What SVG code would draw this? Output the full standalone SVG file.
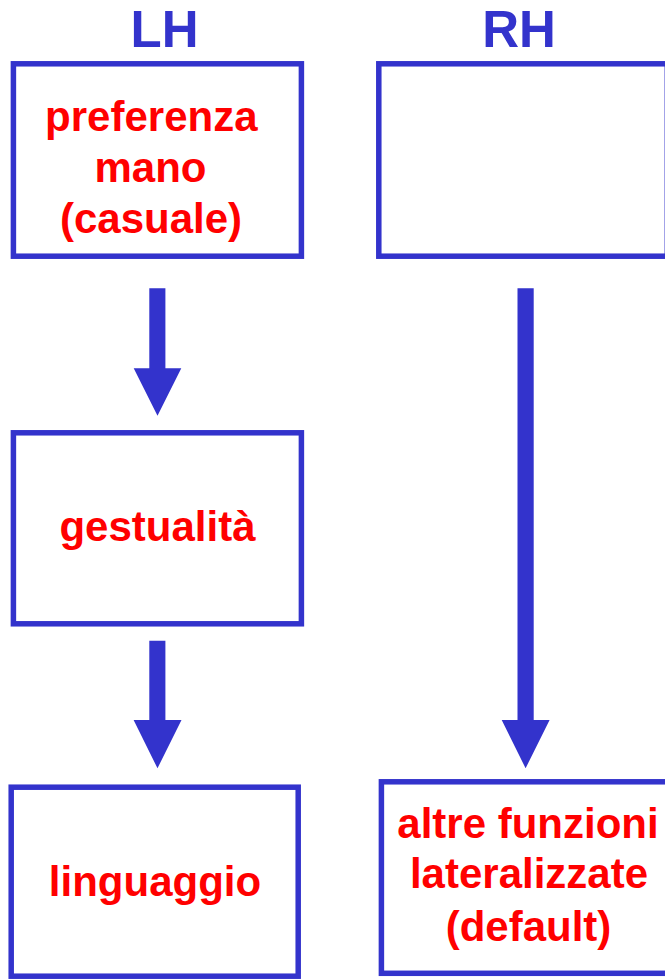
<svg xmlns="http://www.w3.org/2000/svg" width="665" height="979" viewBox="0 0 665 979">
<style>
.box{fill:#FFFFFF;stroke:#3333CC;stroke-width:5.5}
.hdr{font-family:"Liberation Sans",Arial,sans-serif;font-weight:bold;font-size:51px;fill:#3333CC;text-anchor:middle}
.lbl{font-family:"Liberation Sans",Arial,sans-serif;font-weight:bold;font-size:42px;fill:#FF0000;text-anchor:middle}
.arrow{fill:#3333CC}
</style>
<rect width="665" height="979" fill="#FFFFFF"/>
<g id="hdr-lh"><text class="hdr" x="164.5" y="46.5">LH</text></g>
<g id="hdr-rh"><text class="hdr" x="519" y="46.5">RH</text></g>
<g id="connectors">
<polygon class="arrow" points="149.3,288.3 165.4,288.3 165.4,368.3 181.3,368.3 157.5,415.7 133.7,368.3 149.3,368.3"/>
<polygon class="arrow" points="149.3,640.7 165.4,640.7 165.4,720 181.5,720 157.5,768.3 133.6,720 149.3,720"/>
<polygon class="arrow" points="517.5,288.3 533.7,288.3 533.7,720 549.6,720 525.6,768.3 501.7,720 517.5,720"/>
</g>
<g id="node-preferenza">
<rect class="box" x="13.4" y="63.8" width="288" height="192.4"/>
<text class="lbl" x="151.3" y="130.7">preferenza</text>
<text class="lbl" x="150.5" y="182">mano</text>
<text class="lbl" x="151" y="232.7">(casuale)</text>
</g>
<g id="node-rh-empty">
<rect class="box" x="378.8" y="63.8" width="288.5" height="192.4"/>
</g>
<g id="node-gestualita">
<rect class="box" x="13.4" y="432.8" width="288" height="191"/>
<text class="lbl" x="157.5" y="540.7">gestualità</text>
</g>
<g id="node-linguaggio">
<rect class="box" x="11.2" y="787.2" width="287" height="189"/>
<text class="lbl" x="155" y="896">linguaggio</text>
</g>
<g id="node-altre">
<rect class="box" x="381.4" y="781.8" width="288" height="191.5"/>
<text class="lbl" x="528" y="838.3">altre funzioni</text>
<text class="lbl" x="529" y="888.3">lateralizzate</text>
<text class="lbl" x="528.5" y="940.7">(default)</text>
</g>
</svg>
